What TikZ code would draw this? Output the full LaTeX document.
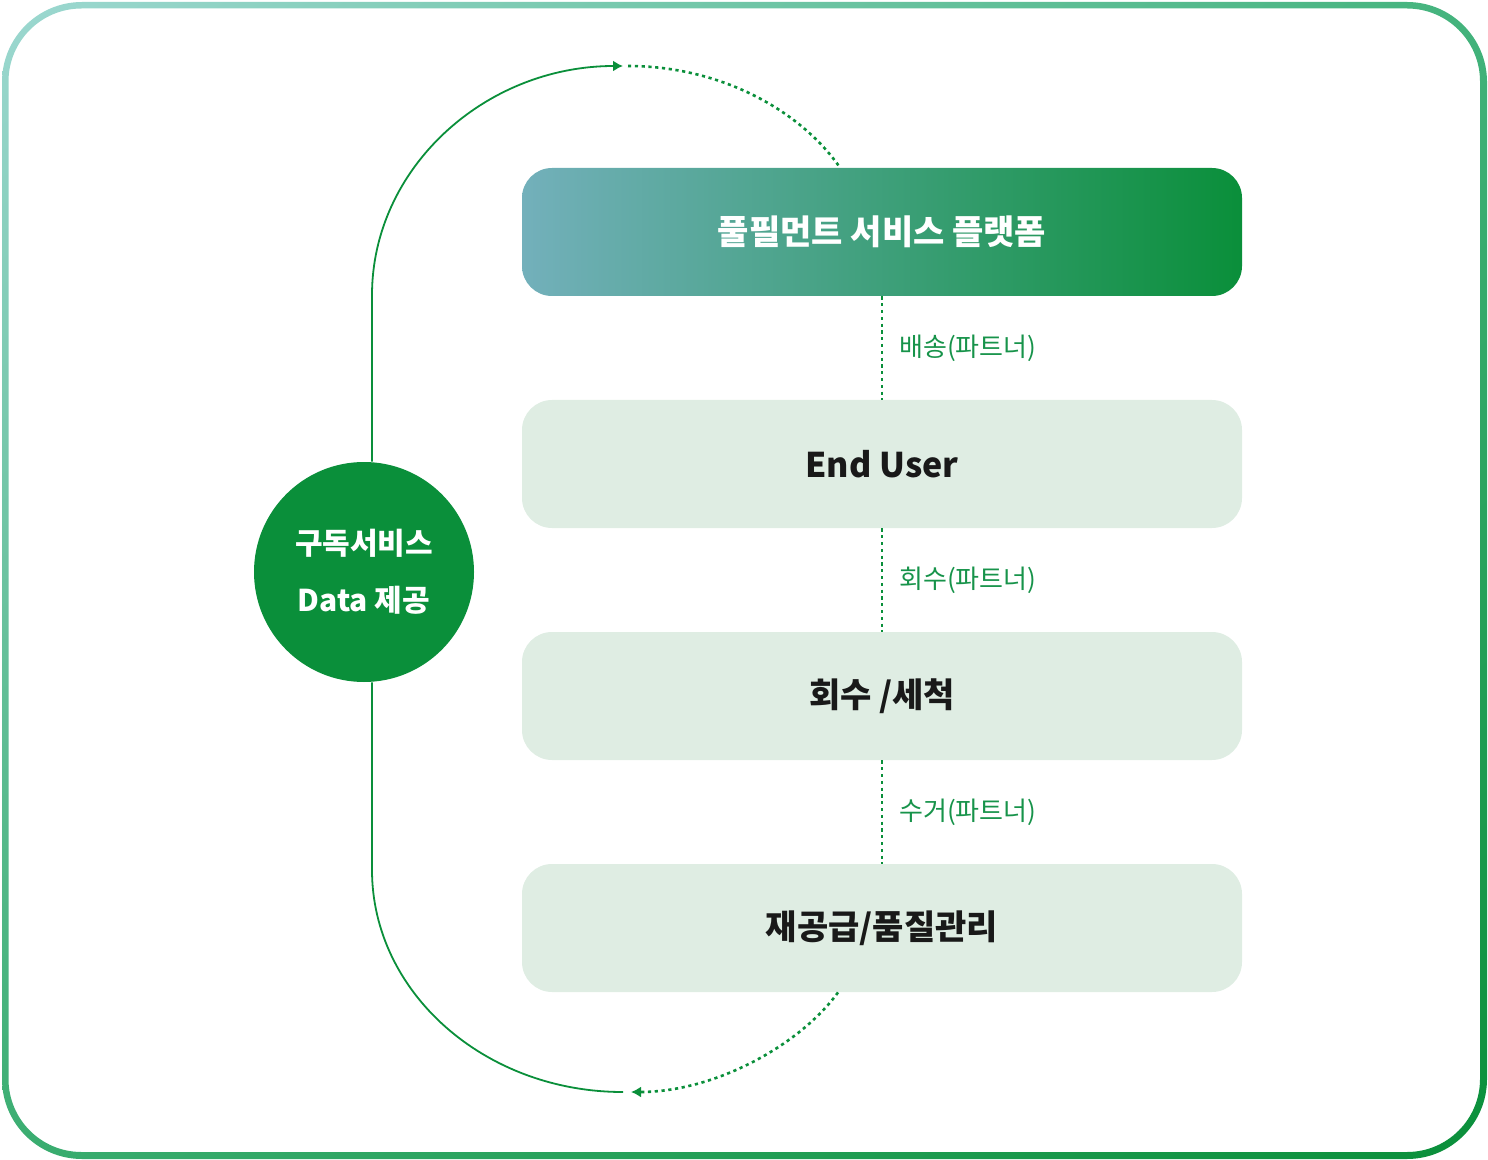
\documentclass[tikz,border=0pt]{standalone}
\usepackage{fontspec}
\setmainfont{Noto Sans CJK KR}
\usetikzlibrary{arrows.meta,shadings}

\definecolor{mainGreen}{HTML}{0A8F3A}
\definecolor{lblGreen}{HTML}{17934A}
\definecolor{boxFill}{HTML}{DFEDE3}
\definecolor{topLeft}{HTML}{73B0BB}
\definecolor{brdTL}{HTML}{9DD8D1}
\definecolor{brdTR}{HTML}{43B37C}
\definecolor{brdBL}{HTML}{3AAD70}
\definecolor{brdBR}{HTML}{0A8F3A}

\begin{document}
\begin{tikzpicture}[x=0.5pt, y=-0.5pt, >=Latex]

\tikzset{
  box/.style={rounded corners=15pt, minimum width=360pt, minimum height=64pt, inner sep=0pt,
    font=\bfseries\fontsize{17}{20}\selectfont},
  stepbox/.style={box, fill=boxFill, text=black!90},
  topbox/.style={box, left color=topLeft, right color=mainGreen, text=white},
  hub/.style={circle, fill=mainGreen, text=white, minimum size=110pt, inner sep=0pt, align=center,
    font=\bfseries\fontsize{15}{28.5}\selectfont},
  lbl/.style={right=8pt, inner sep=0pt, text=lblGreen, font=\fontsize{13}{15}\selectfont},
  dots/.style={draw=mainGreen, line width=1.3pt, dash pattern=on 1.6pt off 1.8pt},
  line/.style={draw=mainGreen, line width=0.9pt},
  arr/.style={line, -{Latex[length=5pt,width=5.5pt]}}
}

\useasboundingbox (0,0) rectangle (1488,1160);

% --- Moldura ---
\shade[even odd rule, upper left=brdTL, upper right=brdTR, lower left=brdBL, lower right=brdBR]
  [rounded corners=40pt] (2,2) rectangle (1487,1159)
  [rounded corners=36.5pt] (8.5,8.5) rectangle (1480,1152);

% --- Nós ---

% Plataforma (topo)
\node[topbox] (platform) at (882,232) {풀필먼트 서비스 플랫폼};

% Etapas
\node[stepbox] (user)   at (882,464) {End User};
\node[stepbox] (wash)   at (882,696) {회수 /세척};
\node[stepbox] (reuse)  at (882,928) {재공급/품질관리};

% Círculo da esquerda
\node[hub] (sub) at (364,572) {구독서비스\\Data 제공};

% Pontos livres dos arcos
\coordinate (toptip) at (623,66);
\coordinate (topgap) at (628,66);
\coordinate (botgap) at (623,1092);
\coordinate (bottip) at (631,1092);

% --- Setas ---
% Ligações verticais
\draw[dots] (platform) -- node[lbl] {배송(파트너)} (user);
\draw[dots] (user) -- node[lbl] {회수(파트너)} (wash);
\draw[dots] (wash) -- node[lbl] {수거(파트너)} (reuse);

% Arco de cima
\draw[arr] ([xshift=4pt]sub.north) -- (372,295) .. controls (372,169) and (484,66) .. (toptip);
\draw[dots] (topgap) .. controls (720,66) and (800,110) .. ([xshift=-21pt]platform.north);

% Arco de baixo
\draw[dots, -{Latex[length=5pt,width=5.5pt]}] ([xshift=-22pt]reuse.south) .. controls (800,1045) and (715,1092) .. (bottip);
\draw[line] ([xshift=4pt]sub.south) -- (372,870) .. controls (372,992) and (484,1092) .. (botgap);

\end{tikzpicture}
\end{document}
